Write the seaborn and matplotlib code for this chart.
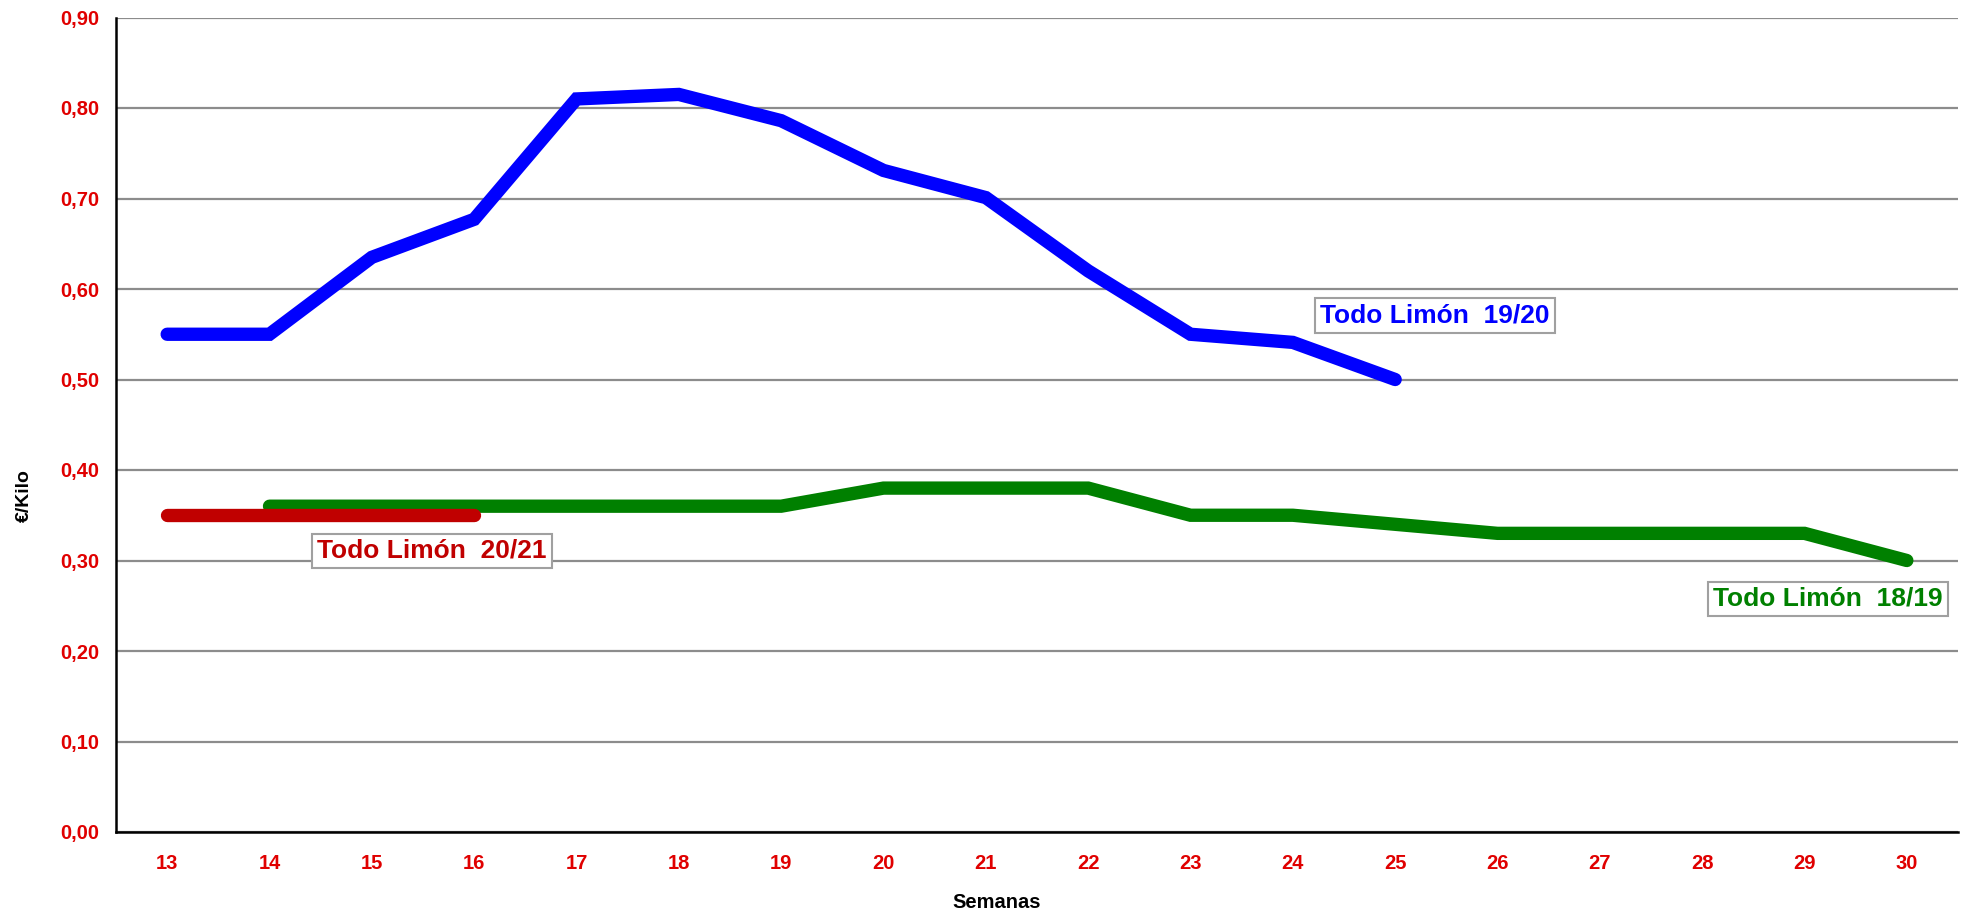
import matplotlib
matplotlib.use("Agg")
import matplotlib.pyplot as plt
import seaborn as sns
import pandas as pd

# ---- data ----
weeks = list(range(13, 31))
weeks_1920 = list(range(13, 26))
vals_1920 = [0.55, 0.55, 0.635, 0.677, 0.81, 0.815, 0.786, 0.731, 0.701, 0.62, 0.55, 0.541, 0.50]
weeks_1819 = list(range(14, 31))
vals_1819 = [0.36, 0.36, 0.36, 0.36, 0.36, 0.36, 0.38, 0.38, 0.38, 0.35, 0.35, 0.34, 0.33, 0.33, 0.33, 0.33, 0.30]
weeks_2021 = list(range(13, 17))
vals_2021 = [0.35, 0.35, 0.35, 0.35]
y_ticks = [0.0, 0.1, 0.2, 0.3, 0.4, 0.5, 0.6, 0.7, 0.8, 0.9]
y_ticklabels = ["0,00", "0,10", "0,20", "0,30", "0,40", "0,50", "0,60", "0,70", "0,80", "0,90"]
series_names = ["Todo Limón 18/19", "Todo Limón 19/20", "Todo Limón 20/21"]
label_texts = {"Todo Limón 18/19": "Todo Limón  18/19",
               "Todo Limón 19/20": "Todo Limón  19/20",
               "Todo Limón 20/21": "Todo Limón  20/21"}
colors = {"Todo Limón 18/19": "#008000", "Todo Limón 19/20": "#0000ff", "Todo Limón 20/21": "#c00000"}

df = pd.concat([
    pd.DataFrame({"Semana": weeks_1819, "Precio": vals_1819, "Serie": series_names[0]}),
    pd.DataFrame({"Semana": weeks_1920, "Precio": vals_1920, "Serie": series_names[1]}),
    pd.DataFrame({"Semana": weeks_2021, "Precio": vals_2021, "Serie": series_names[2]}),
])

sns.set_style("white")
plt.rcParams["font.family"] = ["Liberation Sans", "DejaVu Sans"]

fig = plt.figure(figsize=(19.68, 9.14), dpi=100)
ax = fig.add_axes([116 / 1968, 1 - 832 / 914, (1958 - 116) / 1968, (832 - 17.5) / 914])

# gridlines
ax.set_axisbelow(True)
ax.yaxis.grid(True, color="#8c8c8c", linewidth=1.6)
ax.xaxis.grid(False)

for name in series_names:
    sub = df[df["Serie"] == name]
    sns.lineplot(data=sub, x="Semana", y="Precio", ax=ax, color=colors[name],
                 linewidth=9.6, solid_capstyle="round", solid_joinstyle="miter",
                 legend=False, zorder=3 if name != series_names[2] else 4)

ax.set_xlim(12.5, 30.5)
ax.set_ylim(0, 0.9)

# y axis
ax.set_yticks(y_ticks)
ax.set_yticklabels(y_ticklabels)
ax.tick_params(axis="y", which="major", direction="out", length=6, width=1.5,
               color="black", labelcolor="#e00000", labelsize=14.5, pad=6)
for t in ax.get_yticklabels():
    t.set_fontweight("bold")

# x axis: ticks at category boundaries, labels at centers
ax.set_xticks([w - 0.5 for w in weeks] + [weeks[-1] + 0.5])
ax.set_xticklabels([])
ax.set_xticks(weeks, minor=True)
ax.set_xticklabels([str(w) for w in weeks], minor=True)
ax.tick_params(axis="x", which="major", direction="out", length=6, width=1.5, color="black")
ax.tick_params(axis="x", which="minor", length=0, labelcolor="#e00000", labelsize=14.5, pad=16)
for t in ax.get_xticklabels(minor=True):
    t.set_fontweight("bold")

for side in ["top", "right"]:
    ax.spines[side].set_visible(False)
for side in ["left", "bottom"]:
    ax.spines[side].set_color("black")
    ax.spines[side].set_linewidth(1.8)

ax.set_xlabel("Semanas", fontsize=14.5, fontweight="bold", color="black")
ax.set_ylabel("€/Kilo", fontsize=14, fontweight="bold", color="black")
ax.xaxis.set_label_coords((997 - 116) / (1958 - 116), -(903 - 832) / (832 - 17.5))
ax.xaxis.label.set_va("center")
ax.yaxis.set_label_coords(-(116 - 24) / (1958 - 116), (832 - 496) / (832 - 17.5))
ax.yaxis.label.set_va("center")

# series labels
label_pos = {
    "Todo Limón 19/20": (25.39, 0.571),
    "Todo Limón 20/21": (15.59, 0.3105),
    "Todo Limón 18/19": (29.23, 0.2575),
}
for name, (lx, ly) in label_pos.items():
    ax.text(lx, ly, label_texts[name], ha="center", va="center", fontsize=19, fontweight="bold",
            color=colors[name], zorder=5,
            bbox=dict(boxstyle="square,pad=0.2", facecolor="white", edgecolor="#a0a0a0", linewidth=1.5))

fig.savefig("out.png", dpi=100)
